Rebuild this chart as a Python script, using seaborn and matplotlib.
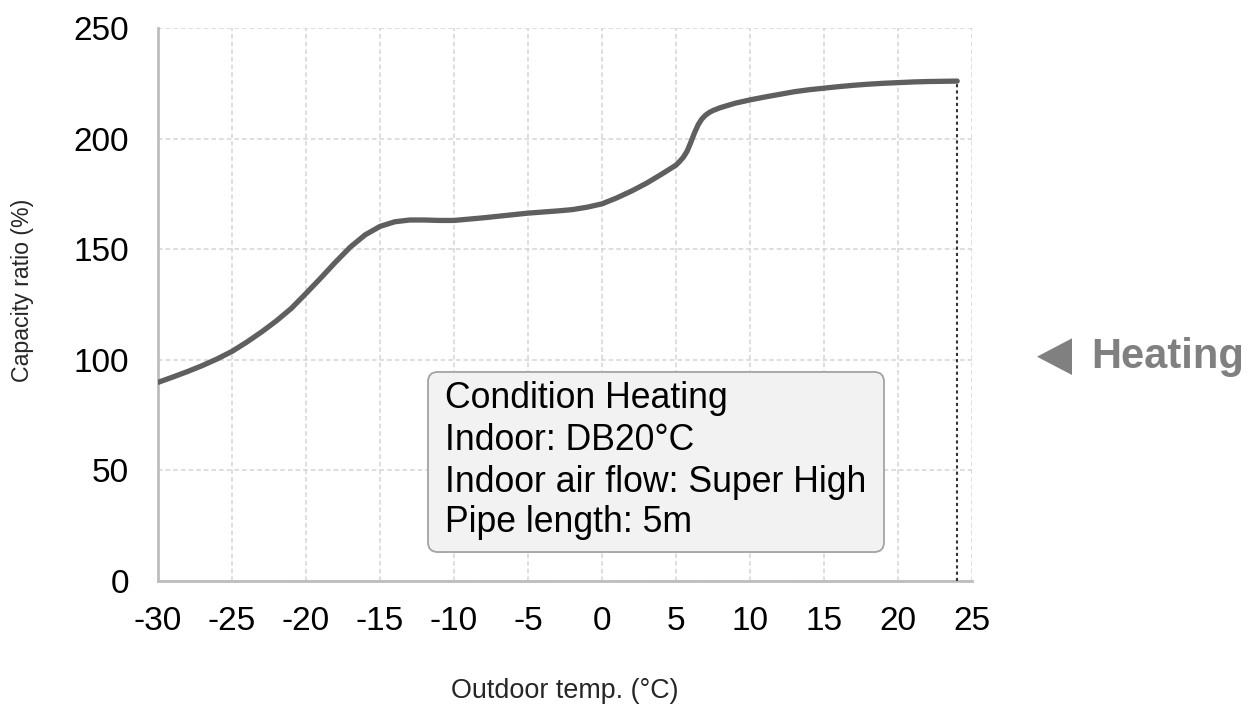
import matplotlib
matplotlib.use("Agg")
import matplotlib.pyplot as plt
from matplotlib.patches import FancyBboxPatch, Polygon
import seaborn as sns
import numpy as np
import pandas as pd

# outdoor temperature (degC) and capacity ratio (%)
outdoor_temp = [-30, -29, -28, -27, -26, -25, -24, -23, -22, -21, -20, -19, -18, -17, -16,
                -15, -14, -13, -12, -11, -10, -9, -8, -7, -6, -5, -4, -3, -2, -1,
                0, 1, 2, 3, 4, 5, 5.25, 5.5, 5.75, 6, 6.25, 6.5, 6.75, 7, 7.25, 7.5, 8, 9,
                10, 11, 12, 13, 14, 15, 16, 17, 18, 19, 20, 21, 22, 23, 24]
capacity_ratio = [89.8, 92.2, 94.7, 97.4, 100.4, 103.8, 108, 112.6, 117.6, 123.2, 130, 137, 144.2, 151, 156.5,
                  160.3, 162.4, 163.2, 163.2, 163, 163, 163.6, 164.2, 164.9, 165.6, 166.3, 166.8, 167.3, 167.9, 169,
                  170.5, 173.2, 176.3, 179.8, 183.8, 188, 189.7, 191.6, 194.3, 198.3, 202.6, 206.3, 208.9, 210.6,
                  211.8, 212.7, 214, 216,
                  217.5, 218.8, 220, 221.2, 222.1, 222.8, 223.5, 224.1, 224.6, 225, 225.3, 225.6, 225.8, 225.9, 226]

x_ticks = [-30, -25, -20, -15, -10, -5, 0, 5, 10, 15, 20, 25]
y_ticks = [0, 50, 100, 150, 200, 250]

condition_lines = ["Condition Heating", "Indoor: DB20°C",
                   "Indoor air flow: Super High", "Pipe length: 5m"]

df = pd.DataFrame({"temp": outdoor_temp, "ratio": capacity_ratio})

sns.set_style("white")
plt.rcParams["font.family"] = ["Liberation Sans", "DejaVu Sans"]

fig = plt.figure(figsize=(12.53, 7.04), dpi=100)
ax = fig.add_axes([158 / 1253, 1 - 581 / 704, 814 / 1253, 553 / 704])

sns.lineplot(data=df, x="temp", y="ratio", ax=ax, color="#5f5f5f", linewidth=3.8,
             solid_capstyle="round", solid_joinstyle="round", zorder=5)

# dotted drop line at the end of the curve
ax.vlines(outdoor_temp[-1], 0, capacity_ratio[-1], colors="#333333",
          linestyles=(0, (1.5, 1.5)), linewidth=1.5, zorder=4)

ax.set_xlim(-30, 25)
ax.set_ylim(0, 250)
ax.set_xticks(x_ticks)
ax.set_yticks(y_ticks)
ax.set_xticklabels([str(t) for t in x_ticks])
ax.grid(True, color="#d4d4d4", linestyle=(0, (3, 2)), linewidth=1.1)
ax.tick_params(axis="both", length=0, labelsize=24, colors="black")
ax.tick_params(axis="x", pad=18)
ax.tick_params(axis="y", pad=21)

for side in ["top", "right"]:
    ax.spines[side].set_visible(False)
for side in ["left", "bottom"]:
    ax.spines[side].set_color("#bdbdbd")
    ax.spines[side].set_linewidth(2)

ax.set_xlabel("Outdoor temp. (°C)", fontsize=19.4)
ax.set_ylabel("Capacity ratio (%)", fontsize=16.7)
ax.xaxis.set_label_coords(0.5, -0.175)
ax.yaxis.set_label_coords(-0.152, 0.526)

# condition box
aw, ah = 814, 553
box = FancyBboxPatch((0.3317, 0.0524), 0.5602, 0.3256,
                     boxstyle="round,pad=0,rounding_size=0.012",
                     mutation_aspect=aw / ah, transform=ax.transAxes,
                     facecolor="#f2f2f2", edgecolor="#a3a3a3", linewidth=1.3, zorder=6)
ax.add_patch(box)
for line, yb in zip(condition_lines, [0.3128, 0.2369, 0.1609, 0.0886]):
    ax.text(0.3526, yb, line, transform=ax.transAxes, fontsize=25.7,
            va="baseline", ha="left", color="black", zorder=7)

# "Heating" marker on the right
tri = Polygon([[1037 / 1253, 1 - 356.7 / 704], [1072 / 1253, 1 - 338.3 / 704],
               [1072 / 1253, 1 - 375 / 704]], closed=True, transform=fig.transFigure,
              facecolor="#808080", edgecolor="none")
fig.patches.append(tri)
fig.text(1091 / 1253, 1 - 368.3 / 704, "Heating", fontsize=30, fontweight="bold",
         color="#808080", ha="left", va="baseline")

plt.savefig("out.png", dpi=100)
